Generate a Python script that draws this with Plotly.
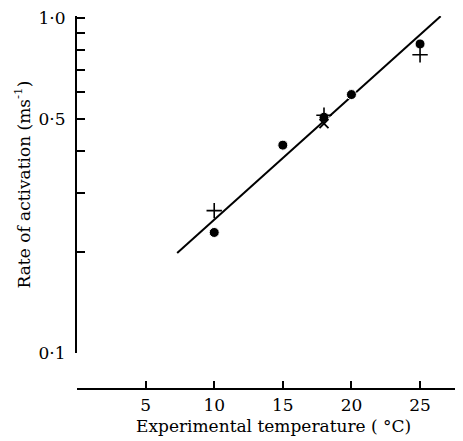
import plotly.graph_objects as go

# Data
circ_T = [10, 15, 18, 20, 25]
circ_rate = [0.229, 0.417, 0.505, 0.590, 0.835]
plus_T = [10, 18, 25]
plus_rate = [0.266, 0.512, 0.775]
cross_T = [18]
cross_rate = [0.483]
fit_T = [7.3, 26.5]
fit_rate = [0.199, 1.01]

y_tickvals = [0.1, 0.2, 0.3, 0.4, 0.5, 0.6, 0.7, 0.8, 0.9, 1.0]
y_ticktext = ["0·1", "", "", "", "0·5", "", "", "", "", "1·0"]
x_tickvals = [0, 5, 10, 15, 20, 25]
x_ticktext = ["", "5", "10", "15", "20", "25"]

FONT = "DejaVu Serif"

fig = go.Figure()
fig.add_trace(go.Scatter(x=fit_T, y=fit_rate, mode="lines",
                         line=dict(color="black", width=2), showlegend=False))
fig.add_trace(go.Scatter(x=circ_T, y=circ_rate, mode="markers",
                         marker=dict(symbol="circle", size=10, color="black",
                                     line=dict(color="white", width=1)),
                         showlegend=False, cliponaxis=False))
fig.add_trace(go.Scatter(x=plus_T, y=plus_rate, mode="markers",
                         marker=dict(symbol="cross-thin", size=11,
                                     line=dict(color="black", width=1.6)),
                         showlegend=False, cliponaxis=False))
fig.add_trace(go.Scatter(x=cross_T, y=cross_rate, mode="markers",
                         marker=dict(symbol="x-thin", size=9,
                                     line=dict(color="black", width=1.8)),
                         showlegend=False, cliponaxis=False))

# The page body adds an 8px margin; the figure is sized to fit the window.
fig.update_layout(
    width=455, height=433,
    margin=dict(l=69, r=0, t=6, b=52),
    paper_bgcolor="white", plot_bgcolor="white",
    font=dict(family=FONT, size=17, color="black"),
    xaxis=dict(
        range=[0, 28.13], anchor="free", position=0,
        showgrid=False, zeroline=False,
        showline=True, linecolor="black", linewidth=2,
        ticks="inside", ticklen=7, tickwidth=2, tickcolor="black",
        tickvals=x_tickvals, ticktext=x_ticktext,
        ticklabelstandoff=1, ticklabeloverflow="allow",
    ),
    yaxis=dict(
        type="log", range=[-1, 0.005], domain=[0.096, 1],
        showgrid=False, zeroline=False,
        showline=True, linecolor="black", linewidth=2,
        ticks="inside", ticklen=8, tickwidth=2, tickcolor="black",
        tickvals=y_tickvals, ticktext=y_ticktext,
        ticklabelstandoff=6, ticklabeloverflow="allow",
        title=dict(text="Rate of activation (ms<sup>-1</sup>)", standoff=4,
                   font=dict(family=FONT, size=17)),
    ),
    annotations=[dict(
        text="Experimental temperature ( °C)", xref="paper", yref="paper",
        x=0.51, y=0, yshift=-37, xanchor="center", yanchor="middle",
        showarrow=False, font=dict(family=FONT, size=17),
    )],
)

fig.write_html("out.html")
